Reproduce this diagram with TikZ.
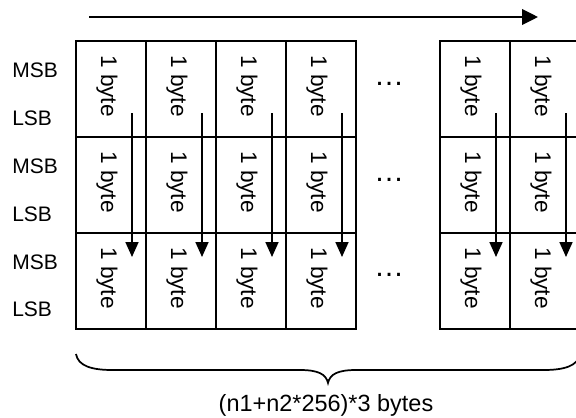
\documentclass[tikz,border=0pt]{standalone}
\usepackage{fontspec}
\setmainfont{Liberation Sans}
\usetikzlibrary{arrows.meta,calc}
\begin{document}
\begin{tikzpicture}[x=0.75pt,y=-0.75pt,
  cell/.style={draw,line width=1.5pt,minimum width=52.5pt,minimum height=72pt,inner sep=0pt,outer sep=0pt},
  bytetxt/.style={rotate=-90,font=\fontsize{17}{20}\selectfont,inner sep=0pt},
  side/.style={anchor=west,font=\fontsize{15.75}{18}\selectfont,inner sep=0pt},
  dotsnode/.style={anchor=base,font=\fontsize{22.5}{26}\selectfont,inner sep=0pt},
  varr/.style={line width=1.3pt,-{Triangle[length=11.25pt,width=9.75pt]}},
  harr/.style={line width=1.3pt,-{Triangle[length=12pt,width=11.8pt]}},
  bracepath/.style={line width=1.3pt},
]
\useasboundingbox (0,0) rectangle (576,418);
\clip (0,0) rectangle (576,418);
% cells
\foreach \c/\x in {1/111,2/181,3/251,4/321,5/475,6/545}{
  \foreach \r/\y in {1/89,2/185,3/281}{
    \node[cell] (c\c\r) at (\x,\y) {};
    \node[bytetxt] (t\c\r) at (\x-4,\y-3) {1 byte};
  }
}
% vertical arrows
\foreach \c in {1,...,6}{
  \coordinate (s\c) at ($(c\c1.north west)+(56,72)$);
  \coordinate (e\c) at ($(c\c3.north west)+(56,24)$);
  \draw[varr] (s\c) -- (e\c);
}
% top arrow
\coordinate (ta) at (89,17);
\coordinate (tb) at (538,17);
\draw[harr] (ta) -- (tb);
% dots
\node[dotsnode] (d1) at (389,85) {…};
\node[dotsnode] (d2) at (389,181.5) {…};
\node[dotsnode] (d3) at (389,276.5) {…};
% side labels
\node[side] (m1) at (12,70) {MSB};
\node[side] (l1) at (12,118.5) {LSB};
\node[side] (m2) at (12,166) {MSB};
\node[side] (l2) at (12,214) {LSB};
\node[side] (m3) at (12,262) {MSB};
\node[side] (l3) at (12,309.5) {LSB};
% brace
\draw[bracepath] (76,354) .. controls (78,366) and (92,370) .. (112,370) -- (300,370)
  .. controls (318,370) and (326,374) .. (328,383)
  .. controls (330,374) and (338,370) .. (356,370) -- (544,370)
  .. controls (564,370) and (578,366) .. (580,354);
\node[anchor=base,font=\fontsize{17.6}{21}\selectfont,inner sep=0pt] (lbl) at (326,411.5) {(n1+n2*256)*3 bytes};
\end{tikzpicture}
\end{document}
